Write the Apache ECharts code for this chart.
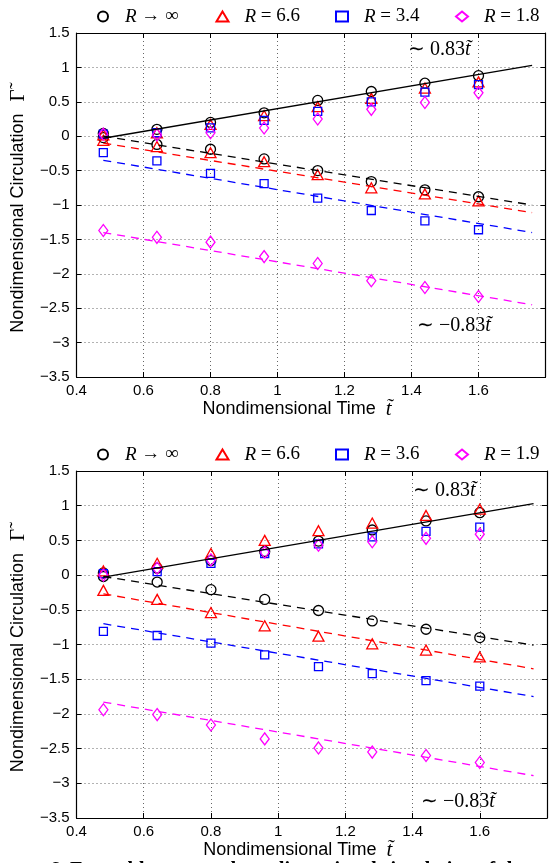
<!DOCTYPE html>
<html lang="en">
<head>
    <meta charset="UTF-8">
    <title>Circulation</title>
    <script src="https://cdn.jsdelivr.net/npm/echarts@6/dist/echarts.min.js"></script>
    <style>
        html, body { margin: 0; padding: 0; background: #fff; }
        #main { width: 550px; height: 863px; }
    </style>
</head>
<body>
<div id="main"></div>
<script>
    // sampling times
    var times = [0.48, 0.64, 0.80, 0.96, 1.12, 1.28, 1.44, 1.60];

    // upper panel  (R -> inf, 6.6, 3.4, 1.8)
    var topNames = ['R → ∞', 'R = 6.6', 'R = 3.4', 'R = 1.8'];
    var topInfPos = [0.04, 0.10, 0.20, 0.34, 0.52, 0.65, 0.77, 0.88];
    var topInfNeg = [-0.02, -0.12, -0.19, -0.33, -0.50, -0.66, -0.78, -0.88];
    var top66Pos = [0.02, 0.05, 0.17, 0.30, 0.43, 0.55, 0.70, 0.79];
    var top66Neg = [-0.06, -0.15, -0.24, -0.37, -0.56, -0.75, -0.84, -0.94];
    var top34Pos = [0.03, 0.05, 0.12, 0.23, 0.36, 0.50, 0.64, 0.75];
    var top34Neg = [-0.24, -0.36, -0.54, -0.69, -0.90, -1.08, -1.23, -1.36];
    var top18Pos = [0.03, 0.02, 0.05, 0.12, 0.25, 0.39, 0.49, 0.63];
    var top18Neg = [-1.37, -1.47, -1.54, -1.75, -1.85, -2.10, -2.20, -2.33];
    // fitted lines (end points)
    var topFitUp = [[0.48, -0.03], [1.76, 1.03]];
    var topFitInf = [[0.48, 0.00], [1.76, -1.00]];
    var topFit66 = [[0.48, -0.10], [1.76, -1.11]];
    var topFit34 = [[0.48, -0.35], [1.76, -1.40]];
    var topFit18 = [[0.48, -1.40], [1.76, -2.45]];

    // lower panel  (R -> inf, 6.6, 3.6, 1.9)
    var botNames = ['R → ∞', 'R = 6.6', 'R = 3.6', 'R = 1.9'];
    var botInfPos = [0.03, 0.10, 0.21, 0.34, 0.49, 0.65, 0.78, 0.90];
    var botInfNeg = [-0.02, -0.10, -0.21, -0.35, -0.51, -0.66, -0.78, -0.90];
    var bot66Pos = [0.06, 0.17, 0.31, 0.50, 0.64, 0.75, 0.86, 0.95];
    var bot66Neg = [-0.22, -0.35, -0.54, -0.73, -0.88, -0.99, -1.08, -1.18];
    var bot36Pos = [0.02, 0.05, 0.17, 0.31, 0.45, 0.55, 0.63, 0.69];
    var bot36Neg = [-0.81, -0.87, -0.98, -1.15, -1.32, -1.42, -1.52, -1.60];
    var bot19Pos = [0.00, 0.10, 0.22, 0.33, 0.43, 0.48, 0.53, 0.59];
    var bot19Neg = [-1.94, -2.01, -2.16, -2.36, -2.49, -2.55, -2.60, -2.70];
    var botFitUp = [[0.48, -0.03], [1.76, 1.03]];
    var botFitInf = [[0.48, -0.02], [1.76, -1.01]];
    var botFit66 = [[0.48, -0.27], [1.76, -1.35]];
    var botFit36 = [[0.48, -0.70], [1.76, -1.75]];
    var botFit19 = [[0.48, -1.83], [1.76, -2.89]];

    var xTicks = [0.4, 0.6, 0.8, 1, 1.2, 1.4, 1.6];

    var colors = ['#000000', '#ff0000', '#0000ff', '#ff00ff'];
    var symbols = ['circle', 'triangle', 'rect', 'diamond'];
    var sizes = [10, [11, 10], 8, [9, 12]];

    function fmt(v) {
        return String(+(+v).toFixed(2)).replace('-', '\u2212');
    }

    function pts(pos, neg) {
        var a = times.map(function (x, i) { return [x, pos[i]]; });
        var b = times.map(function (x, i) { return [x, neg[i]]; });
        return a.concat(b);
    }

    var series = [];
    function addPanel(k, names, groups, fits) {
        var ax = k * 2;
        for (var i = 0; i < 4; i++) {
            series.push({
                name: names[i],
                type: 'scatter',
                xAxisIndex: ax, yAxisIndex: ax,
                symbol: symbols[i],
                symbolSize: sizes[i],
                itemStyle: { color: 'rgba(0,0,0,0)', borderColor: colors[i], borderWidth: 1.3, opacity: 1 },
                silent: true,
                data: pts(groups[i][0], groups[i][1])
            });
        }
        series.push({
            name: 'fit' + k, type: 'line', xAxisIndex: ax, yAxisIndex: ax,
            symbol: 'none', silent: true, data: fits[0],
            lineStyle: { color: '#000', width: 1.3 }
        });
        for (var j = 0; j < 4; j++) {
            series.push({
                name: 'fit' + k + '_' + j, type: 'line', xAxisIndex: ax, yAxisIndex: ax,
                symbol: 'none', silent: true, data: fits[j + 1],
                lineStyle: { color: colors[j], width: 1.3, type: [8, 6] }
            });
        }
    }

    addPanel(0, topNames,
        [[topInfPos, topInfNeg], [top66Pos, top66Neg], [top34Pos, top34Neg], [top18Pos, top18Neg]],
        [topFitUp, topFitInf, topFit66, topFit34, topFit18]);
    addPanel(1, botNames,
        [[botInfPos, botInfNeg], [bot66Pos, bot66Neg], [bot36Pos, bot36Neg], [bot19Pos, bot19Neg]],
        [botFitUp, botFitInf, botFit66, botFit36, botFit19]);

    var legendRich = {
        i: { fontFamily: 'Liberation Serif', fontStyle: 'italic', fontSize: 19, color: '#000', padding: [0, 0, 0, 11] },
        n: { fontFamily: 'Liberation Serif', fontSize: 19, color: '#000' }
    };
    var legendLeft = [92, 210.5, 330, 450];
    var legends = [];
    function addLegends(names, topY) {
        names.forEach(function (nm, i) {
            legends.push({
                data: [nm], left: legendLeft[i], top: topY,
                itemWidth: 12, itemHeight: 10,
                selectedMode: false,
                itemStyle: { opacity: 1 },
                formatter: function (s) { return '{i|' + s.charAt(0) + '}{n|' + s.slice(1) + '}'; },
                textStyle: { rich: legendRich }
            });
        });
    }
    addLegends(topNames, 2);
    addLegends(botNames, 440);

    var nameRichX = {
        a: { fontFamily: 'Liberation Sans', fontSize: 18, color: '#000' },
        b: { fontFamily: 'Liberation Serif', fontStyle: 'italic', fontSize: 21, color: '#000', padding: [0, 28, 0, 10] }
    };
    var nameRichY = {
        a: { fontFamily: 'Liberation Sans', fontSize: 18, color: '#000' },
        b: { fontFamily: 'Liberation Serif', fontSize: 21, color: '#000', padding: [0, 12, 0, 12] }
    };

    var axLine = { show: true, onZero: false, lineStyle: { color: '#000', width: 1.2 } };
    var tickIn = { show: true, inside: true, length: 5, lineStyle: { color: '#000' } };
    var dotted = { show: true, lineStyle: { color: '#666', width: 1, type: [1, 3] } };

    var xAxes = [], yAxes = [];
    [0, 1].forEach(function (g) {
        xAxes.push({
            type: 'value', gridIndex: g, min: 0.4, max: 1.8, interval: 0.2, position: 'bottom',
            axisLine: axLine, axisTick: tickIn, splitLine: dotted,
            axisLabel: {
                margin: 6, color: '#000', fontFamily: 'Liberation Sans', fontSize: 15,
                formatter: function (v) { return xTicks.indexOf(+(+v).toFixed(2)) >= 0 ? fmt(v) : ''; }
            },
            name: '{a|Nondimensional Time}{b|t\u0303}', nameLocation: 'middle', nameGap: 21,
            nameTextStyle: { rich: nameRichX }
        });
        xAxes.push({
            type: 'value', gridIndex: g, min: 0.4, max: 1.8, interval: 0.2, position: 'top',
            axisLine: axLine, axisTick: tickIn, splitLine: { show: false }, axisLabel: { show: false }
        });
        yAxes.push({
            type: 'value', gridIndex: g, min: -3.5, max: 1.5, interval: 0.5, position: 'left',
            axisLine: axLine, axisTick: tickIn, splitLine: dotted,
            axisLabel: { margin: 7, color: '#000', fontFamily: 'Liberation Sans', fontSize: 15, formatter: fmt },
            name: '{a|Nondimensional Circulation}{b|\u0393\u0303}', nameLocation: 'middle', nameGap: 36,
            nameTextStyle: { rich: nameRichY }
        });
        yAxes.push({
            type: 'value', gridIndex: g, min: -3.5, max: 1.5, interval: 0.5, position: 'right',
            axisLine: axLine, axisTick: tickIn, splitLine: { show: false }, axisLabel: { show: false }
        });
    });

    var annRich = {
        n: { fontFamily: 'Liberation Serif', fontSize: 20, fill: '#000' },
        i: { fontFamily: 'Liberation Serif', fontStyle: 'italic', fontSize: 20, fill: '#000' }
    };
    function ann(x, y, txt) {
        return {
            type: 'text', left: x, top: y - 11, silent: true,
            style: { text: txt, rich: annRich }
        };
    }

    var myChart = echarts.init(document.getElementById('main'), null, { renderer: 'canvas' });
    var option = {
        backgroundColor: '#fff',
        animation: false,
        grid: [
            { left: 72, top: 33, width: 473.5, height: 344 },
            { left: 70.5, top: 471, width: 476.5, height: 347 }
        ],
        legend: legends,
        xAxis: xAxes,
        yAxis: yAxes,
        series: series,
        graphic: [
            ann(408, 51, '{n|\u223c 0.83}{i|t\u0303}'),
            ann(417, 327, '{n|\u223c \u22120.83}{i|t\u0303}'),
            ann(413, 492, '{n|\u223c 0.83}{i|t\u0303}'),
            ann(421, 803, '{n|\u223c \u22120.83}{i|t\u0303}'),
            {
                type: 'text', left: 50, top: 861, silent: true,
                style: { text: '6. Ensemble averaged nondimensional circulation of the', fill: '#000', font: 'bold 20px "Liberation Serif"' }
            }
        ]
    };
    myChart.setOption(option);
</script>
</body>
</html>
